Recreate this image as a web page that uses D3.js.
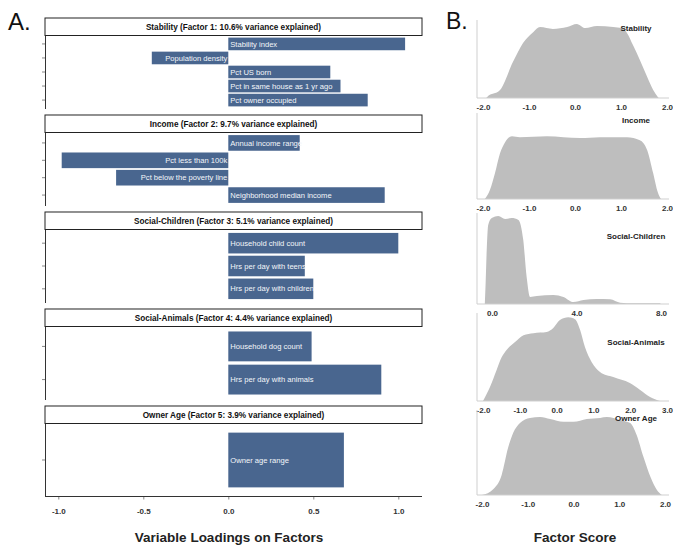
<!DOCTYPE html>
<html>
<head>
<meta charset="utf-8">
<script src="https://cdn.jsdelivr.net/npm/d3@7"></script>
<style>
  body { margin: 0; background: #fff; }
  svg { display: block; font-family: "Liberation Sans", Arial, Helvetica, sans-serif; }
</style>
</head>
<body>
<svg id="chart" width="673" height="552"></svg>
<script>
// ---------- Panel A: variable loadings per factor ----------
const factorTitles = [
  "Stability (Factor 1: 10.6% variance explained)",
  "Income (Factor 2: 9.7% variance explained)",
  "Social-Children (Factor 3: 5.1% variance explained)",
  "Social-Animals (Factor 4: 4.4% variance explained)",
  "Owner Age (Factor 5: 3.9% variance explained)"
];

const stabilityVars = ["Stability index", "Population density", "Pct US born", "Pct in same house as 1 yr ago", "Pct owner occupied"];
const stabilityLoadings = [1.04, -0.45, 0.60, 0.66, 0.82];

const incomeVars = ["Annual income range", "Pct less than 100k", "Pct below the poverty line", "Neighborhood median income"];
const incomeLoadings = [0.42, -0.98, -0.66, 0.92];

const childrenVars = ["Household child count", "Hrs per day with teens", "Hrs per day with children"];
const childrenLoadings = [1.00, 0.45, 0.50];

const animalsVars = ["Household dog count", "Hrs per day with animals"];
const animalsLoadings = [0.49, 0.90];

const ageVars = ["Owner age range"];
const ageLoadings = [0.68];

const loadingTicks = [-1.0, -0.5, 0.0, 0.5, 1.0];

// ---------- Panel B: factor score densities ([score, density]) ----------
const densityNames = ["Stability", "Income", "Social-Children", "Social-Animals", "Owner Age"];

const stabilityScore = [
  [-1.93, 0], [-1.91, 0.004], [-1.63, 0.030], [-1.35, 0.133], [-1.13, 0.204], [-0.91, 0.244],
  [-0.76, 0.263], [-0.48, 0.256], [-0.17, 0.263], [0.04, 0.274], [0.22, 0.259],
  [0.48, 0.267], [0.83, 0.263], [1.02, 0.259], [1.13, 0.241], [1.26, 0.196],
  [1.41, 0.141], [1.57, 0.078], [1.70, 0.030], [1.80, 0.004], [1.82, 0]
];
const incomeScore = [
  [-1.96, 0], [-1.85, 0.038], [-1.74, 0.109], [-1.63, 0.193], [-1.52, 0.240], [-1.37, 0.265],
  [-1.20, 0.261], [-0.61, 0.265], [0.11, 0.257], [0.54, 0.261], [1.13, 0.261],
  [1.41, 0.248], [1.57, 0.206], [1.70, 0.109], [1.80, 0.029], [1.87, 0]
];
const childrenScore = [
  [-0.34, 0], [-0.30, 0.120], [-0.25, 0.297], [-0.18, 0.435], [-0.01, 0.473], [0.30, 0.484],
  [0.62, 0.468], [0.93, 0.473], [1.25, 0.462], [1.48, 0.352], [1.64, 0.149],
  [1.80, 0.039], [2.12, 0.044], [2.91, 0.050], [3.38, 0.039], [3.85, 0.011],
  [4.33, 0.022], [4.96, 0.028], [5.59, 0.026], [6.07, 0.007], [6.70, 0.004], [7.96, 0.004], [7.98, 0]
];
const animalsScore = [
  [-2.00, 0], [-1.81, 0.063], [-1.63, 0.140], [-1.49, 0.198], [-1.36, 0.230], [-1.13, 0.266],
  [-0.90, 0.297], [-0.63, 0.306], [-0.27, 0.311], [-0.09, 0.329], [0.09, 0.365],
  [0.32, 0.378], [0.50, 0.369], [0.64, 0.320], [0.77, 0.243], [0.95, 0.176],
  [1.18, 0.131], [1.54, 0.108], [1.99, 0.081], [2.27, 0.050], [2.54, 0.018], [2.81, 0]
];
const ageScore = [
  [-2.00, 0], [-1.75, 0.021], [-1.57, 0.070], [-1.43, 0.165], [-1.32, 0.217], [-1.17, 0.252],
  [-0.95, 0.270], [-0.73, 0.273], [-0.51, 0.266], [-0.22, 0.256], [0.00, 0.256],
  [0.29, 0.266], [0.58, 0.270], [0.73, 0.273], [1.02, 0.263], [1.24, 0.252],
  [1.38, 0.210], [1.53, 0.133], [1.69, 0.060], [1.82, 0.018], [1.93, 0]
];

const stabilityScoreTicks = [-2, -1, 0, 1, 2];
const incomeScoreTicks = [-2, -1, 0, 1, 2];
const childrenScoreTicks = [0, 4, 8];
const animalsScoreTicks = [-2, -1, 0, 1, 2, 3];
const ageScoreTicks = [-2, -1, 0, 1, 2];

// ---------- drawing ----------
const svg = d3.select("#chart");
const barColor = "#49668f";
const areaColor = "#bebebe";
const fmt1 = d => d.toFixed(1);

const facets = [
  { vars: stabilityVars, vals: stabilityLoadings },
  { vars: incomeVars, vals: incomeLoadings },
  { vars: childrenVars, vals: childrenLoadings },
  { vars: animalsVars, vals: animalsLoadings },
  { vars: ageVars, vals: ageLoadings }
];

const panelLeft = 45, panelRight = 422;
const stripH = 17.5;
const facetBand = d3.scaleBand().domain(d3.range(facets.length)).range([18, 496.5]).paddingInner(0.067);
const xLoad = d3.scaleLinear().domain([-1, 1]).range([58.3, 398.3]);

svg.append("text").attr("x", 8).attr("y", 30).attr("font-size", 24).attr("fill", "#111").text("A.");

facets.forEach((f, i) => {
  const top = facetBand(i);
  const bodyTop = top + stripH;
  const bodyBottom = top + facetBand.bandwidth();
  const g = svg.append("g");

  // strip header
  g.append("rect").attr("x", panelLeft).attr("y", top).attr("width", panelRight - panelLeft).attr("height", stripH)
    .attr("fill", "#fff").attr("stroke", "#222").attr("stroke-width", 1);
  g.append("text").attr("x", (panelLeft + panelRight) / 2).attr("y", top + stripH / 2).attr("dy", "0.35em")
    .attr("text-anchor", "middle").attr("font-size", 8.2).attr("font-weight", "bold").attr("fill", "#111")
    .text(factorTitles[i]);

  const y = d3.scaleBand().domain(f.vars).range([bodyTop, bodyBottom]).paddingInner(0.1).paddingOuter(0.15);

  // left axis with unlabeled ticks
  const ax = g.append("g").attr("transform", `translate(${panelLeft},0)`)
    .call(d3.axisLeft(y).tickSize(3).tickSizeOuter(0).tickFormat(""));
  ax.select(".domain").attr("stroke", "#333");
  ax.selectAll(".tick line").attr("stroke", "#888");

  const rows = f.vars.map((v, k) => ({ name: v, value: f.vals[k] }));
  g.selectAll("rect.bar").data(rows).join("rect").attr("class", "bar")
    .attr("x", d => xLoad(Math.min(0, d.value)))
    .attr("y", d => y(d.name))
    .attr("width", d => Math.abs(xLoad(d.value) - xLoad(0)))
    .attr("height", y.bandwidth())
    .attr("fill", barColor);

  g.selectAll("text.lab").data(rows).join("text").attr("class", "lab")
    .attr("x", d => d.value >= 0 ? xLoad(0) + 2 : xLoad(0) - 1)
    .attr("y", d => y(d.name) + y.bandwidth() / 2)
    .attr("dy", "0.35em")
    .attr("text-anchor", d => d.value >= 0 ? "start" : "end")
    .attr("font-size", 7.6).attr("fill", "#f4f6fa")
    .text(d => d.name);

  if (i === facets.length - 1) {
    const bx = g.append("g").attr("transform", `translate(0,${bodyBottom})`)
      .call(d3.axisBottom(xLoad).tickValues(loadingTicks).tickFormat(fmt1).tickSize(3).tickPadding(9));
    bx.select(".domain").remove();
    bx.selectAll(".tick line").attr("stroke", "#888");
    bx.selectAll(".tick text").attr("font-size", 8).attr("font-weight", "bold").attr("fill", "#333")
      .attr("font-family", "Liberation Sans, Arial, sans-serif");
    g.append("line").attr("x1", panelLeft).attr("x2", panelRight).attr("y1", bodyBottom).attr("y2", bodyBottom)
      .attr("stroke", "#333");
  }
});

svg.append("text").attr("x", 229).attr("y", 542).attr("text-anchor", "middle")
  .attr("font-size", 13.5).attr("font-weight", "bold").attr("fill", "#222").text("Variable Loadings on Factors");

// ---------- Panel B ----------
svg.append("text").attr("x", 446).attr("y", 29).attr("font-size", 23).attr("fill", "#111").text("B.");

const densities = [
  { pts: stabilityScore, ticks: stabilityScoreTicks },
  { pts: incomeScore, ticks: incomeScoreTicks },
  { pts: childrenScore, ticks: childrenScoreTicks },
  { pts: animalsScore, ticks: animalsScoreTicks },
  { pts: ageScore, ticks: ageScoreTicks }
];

// frame of each density panel: vertical extent, pixel span of first..last tick, label anchor
const densityFrames = [
  { top: 20,  bottom: 98,  px0: 483, px1: 667, yHead: 1.055, labelY: 28 },
  { top: 113, bottom: 199, px0: 483, px1: 667, yHead: 1.37,  labelY: 120 },
  { top: 213, bottom: 304, px0: 492, px1: 661, yHead: 1.035, labelY: 236 },
  { top: 313, bottom: 401, px0: 483, px1: 667, yHead: 1.05,  labelY: 342 },
  { top: 410, bottom: 495, px0: 482, px1: 665, yHead: 1.09,  labelY: 418 }
];
const axisX = 477, axisRight = 669, labelX = 636;

densities.forEach((d, i) => {
  const fr = densityFrames[i];
  const g = svg.append("g");
  const x = d3.scaleLinear().domain([d.ticks[0], d.ticks[d.ticks.length - 1]]).range([fr.px0, fr.px1]);
  const yMax = d3.max(d.pts, p => p[1]) * fr.yHead;
  const y = d3.scaleLinear().domain([0, yMax]).range([fr.bottom, fr.top]);

  const area = d3.area().x(p => x(p[0])).y0(y(0)).y1(p => y(p[1])).curve(d3.curveMonotoneX);
  g.append("path").datum(d.pts).attr("d", area).attr("fill", areaColor);

  g.append("line").attr("x1", axisX).attr("x2", axisX).attr("y1", fr.top).attr("y2", fr.bottom)
    .attr("stroke", "#cfcfcf");
  g.append("line").attr("x1", axisX).attr("x2", axisRight).attr("y1", fr.bottom).attr("y2", fr.bottom)
    .attr("stroke", "#cfcfcf");

  const bx = g.append("g").attr("transform", `translate(0,${fr.bottom})`)
    .call(d3.axisBottom(x).tickValues(d.ticks).tickFormat(fmt1).tickSize(0).tickPadding(6));
  bx.select(".domain").remove();
  bx.selectAll(".tick text").attr("font-size", 8).attr("font-weight", "bold").attr("fill", "#333")
    .attr("font-family", "Liberation Sans, Arial, sans-serif");

  g.append("text").attr("x", labelX).attr("y", fr.labelY).attr("dy", "0.35em").attr("text-anchor", "middle")
    .attr("font-size", 8).attr("font-weight", "bold").attr("fill", "#222").text(densityNames[i]);
});

svg.append("text").attr("x", 575).attr("y", 542).attr("text-anchor", "middle")
  .attr("font-size", 13.5).attr("font-weight", "bold").attr("fill", "#222").text("Factor Score");
</script>
</body>
</html>
